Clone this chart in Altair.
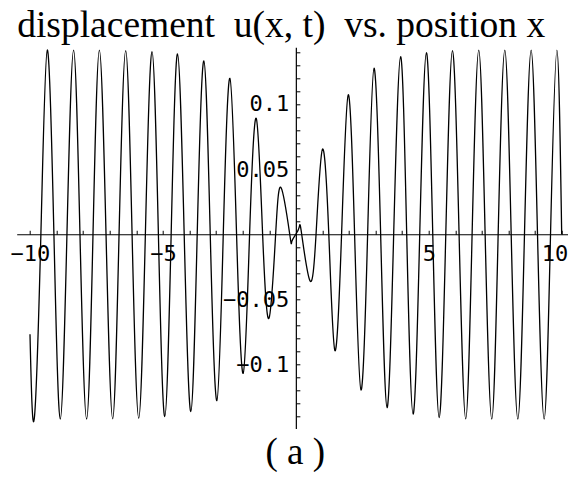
import altair as alt
import pandas as pd

# ---- data ----
x_vals = [-10.0, -9.84, -9.59, -9.35, -9.10, -8.86, -8.61, -8.36, -8.12, -7.87,
          -7.63, -7.39, -7.14, -6.89, -6.65, -6.40, -6.16, -5.91, -5.66, -5.41,
          -5.17, -4.93, -4.69, -4.45, -4.20, -3.95, -3.71, -3.46, -3.22, -2.97,
          -2.73, -2.48, -2.23, -1.98, -1.74, -1.49, -1.25, -1.01, -0.76, -0.55,
          -0.23, -0.15, 0.0, 0.13, 0.22, 0.53, 0.76, 1.00, 1.24, 1.47,
          1.72, 1.97, 2.21, 2.45, 2.70, 2.94, 3.19, 3.43, 3.68, 3.94,
          4.17, 4.41, 4.66, 4.91, 5.15, 5.39, 5.64, 5.89, 6.14, 6.39,
          6.63, 6.88, 7.12, 7.37, 7.61, 7.86, 8.10, 8.35, 8.60, 8.85,
          9.09, 9.34, 9.58, 9.82, 10.0]
u_vals = [-0.0767, -0.1418, 0.0, 0.1414, 0.0, -0.1418, 0.0, 0.1414, 0.0, -0.1418,
          0.0, 0.1414, 0.0, -0.1416, 0.0, 0.1409, 0.0, -0.1412, 0.0, 0.1401,
          0.0, -0.1400, 0.0, 0.1384, 0.0, -0.1361, 0.0, 0.1330, 0.0, -0.1277,
          0.0, 0.1197, 0.0, -0.1067, 0.0, 0.0890, 0.0, -0.0645, 0.0, 0.0355,
          0.0, -0.0055, 0.0, 0.0057, 0.0, -0.0356, 0.0, 0.0652, 0.0, -0.0893,
          0.0, 0.1070, 0.0, -0.1195, 0.0, 0.1274, 0.0, -0.1330, 0.0, 0.1363,
          0.0, -0.1380, 0.0, 0.1394, 0.0, -0.1407, 0.0, 0.1409, 0.0, -0.1417,
          0.0, 0.1414, 0.0, -0.1418, 0.0, 0.1414, 0.0, -0.1418, 0.0, 0.1414,
          0.0, -0.1418, 0.0, 0.1414, 0.0]

x_ticks = [-10, -9, -8, -7, -6, -5, -4, -3, -2, -1, 1, 2, 3, 4, 5, 6, 7, 8, 9, 10]
y_ticks = [-0.14, -0.13, -0.12, -0.11, -0.10, -0.09, -0.08, -0.07, -0.06, -0.05,
           -0.04, -0.03, -0.02, -0.01, 0.01, 0.02, 0.03, 0.04, 0.05, 0.06,
           0.07, 0.08, 0.09, 0.10, 0.11, 0.12, 0.13, 0.14]

title_text = "displacement\u00a0 u(x, t)\u00a0 vs. position x"
caption_text = "( a )"

x_domain = [-10.5, 10.237]
y_domain = [-0.149, 0.1435]

W = 551.3
H = 381.1
x_zero_px = W * (0 - x_domain[0]) / (x_domain[1] - x_domain[0])
y_zero_px = H * (y_domain[1] - 0) / (y_domain[1] - y_domain[0])

df = pd.DataFrame({"x": x_vals, "u": u_vals})
ann = pd.DataFrame({"t": [title_text]})
cap = pd.DataFrame({"t": [caption_text]})

mono = "DejaVu Sans Mono"
tick_len = 4

x_axis = alt.Axis(
    orient="top", offset=-y_zero_px, values=x_ticks, format="d",
    labelExpr="abs(datum.value) % 5 == 0 ? datum.label : ''",
    tickSize=tick_len, tickColor="black", tickWidth=1,
    domainColor="black", domainWidth=1.2,
    labelFont=mono, labelFontSize=22, labelColor="black",
    labelBaseline="top", labelPadding=-(tick_len + 9),
    labelOverlap=False, labelBound=False,
    labelFlush=8, labelFlushOffset=6,
    grid=False, title=None,
)
y_axis = alt.Axis(
    orient="right", offset=x_zero_px - W, values=y_ticks, format=".2~f",
    labelExpr="abs(round(datum.value * 100)) % 5 == 0 ? datum.label : ''",
    tickSize=tick_len, tickColor="black", tickWidth=1,
    domainColor="black", domainWidth=1.2,
    labelFont=mono, labelFontSize=22, labelColor="black",
    labelAlign="right", labelBaseline="middle", labelPadding=-(tick_len + 7),
    labelOverlap=False, labelBound=False, labelFlush=False,
    grid=False, title=None,
)

curve = alt.Chart(df).mark_line(
    interpolate="natural", color="black", strokeWidth=1.3
).encode(
    x=alt.X("x:Q", scale=alt.Scale(domain=x_domain, nice=False, zero=False), axis=x_axis),
    y=alt.Y("u:Q", scale=alt.Scale(domain=y_domain, nice=False, zero=False), axis=y_axis),
)

title = alt.Chart(ann).mark_text(
    font="Liberation Serif", fontSize=37.5, color="black",
    align="center", baseline="alphabetic",
).encode(
    text="t:N",
    x=alt.value(264.5),
    y=alt.value(-10.5),
)

caption = alt.Chart(cap).mark_text(
    font="Liberation Serif", fontSize=37, color="black",
    align="center", baseline="alphabetic",
).encode(
    text="t:N",
    x=alt.value(278.5),
    y=alt.value(416.5),
)

chart = alt.layer(curve, title, caption).properties(
    width=W, height=H,
    autosize=alt.AutoSizeParams(type="none"),
    padding={"left": 8.7, "top": 39.3, "right": 0, "bottom": 43.6},
    background="white",
).configure_view(stroke=None)

chart.save("out.html", embed_options={"renderer": "svg", "actions": False})
